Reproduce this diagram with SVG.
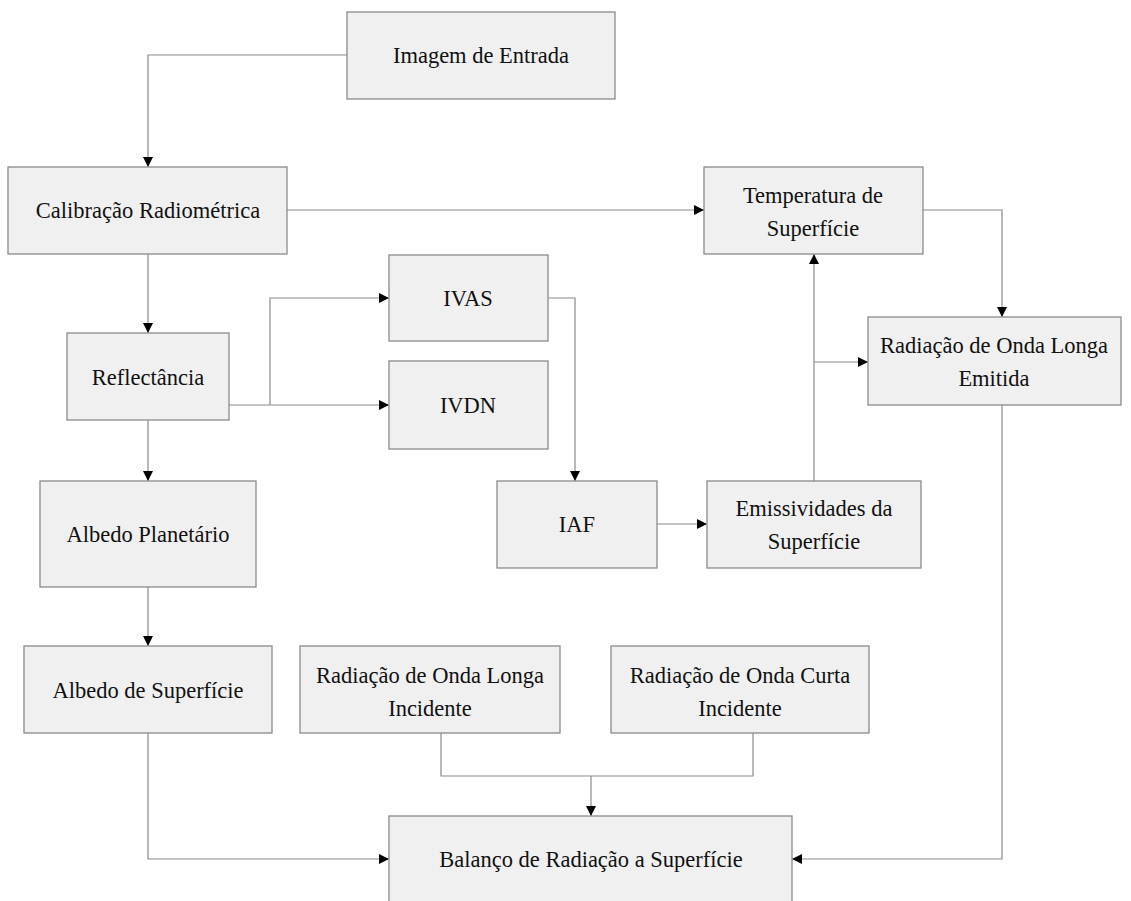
<svg xmlns="http://www.w3.org/2000/svg" width="1131" height="901" viewBox="0 0 1131 901">
<defs>
<marker id="arr" viewBox="0 0 10 10" refX="10" refY="5" markerWidth="11" markerHeight="10" markerUnits="userSpaceOnUse" orient="auto">
<path d="M0,0 L10,5 L0,10 Z" fill="#000"/>
</marker>
<style>
.box{fill:#f0f0f0;stroke:#8a8a8a;stroke-width:1.3}
.t{font-family:"Liberation Serif","Times New Roman",serif;font-size:22.5px;fill:#111;text-anchor:middle}
.c{fill:none;stroke:#8a8a8a;stroke-width:1.2}
.a{marker-end:url(#arr)}
</style>
</defs>
<rect width="1131" height="901" fill="#fff"/>
<g id="connectors">
<path class="c a" d="M347,55 H148 V167"/>
<path class="c a" d="M287,210 H704"/>
<path class="c a" d="M923,210 H1002 V317"/>
<path class="c a" d="M148,254 V333"/>
<path class="c a" d="M229,405 H389"/>
<path class="c a" d="M270,405 V298 H389"/>
<path class="c a" d="M548,298 H575 V481"/>
<path class="c a" d="M657,524 H707"/>
<path class="c a" d="M814,481 V254"/>
<path class="c a" d="M814,362 H868"/>
<path class="c a" d="M148,420 V481"/>
<path class="c a" d="M148,587 V646"/>
<path class="c" d="M441,733 V776 H753 V733"/>
<path class="c a" d="M591,776 V816"/>
<path class="c a" d="M148,733 V859 H389"/>
<path class="c a" d="M1002,405 V859 H792"/>
</g>
<g id="n-imagem"><rect class="box" x="347" y="12" width="268" height="87"/><text class="t" x="481" y="63">Imagem de Entrada</text></g>
<g id="n-calibracao"><rect class="box" x="8" y="167" width="279" height="87"/><text class="t" x="148" y="218">Calibração Radiométrica</text></g>
<g id="n-temperatura"><rect class="box" x="704" y="167" width="219" height="87"/><text class="t" x="813" y="203">Temperatura de</text><text class="t" x="813" y="236">Superfície</text></g>
<g id="n-emitida"><rect class="box" x="868" y="317" width="253" height="88"/><text class="t" x="994" y="353">Radiação de Onda Longa</text><text class="t" x="994" y="386">Emitida</text></g>
<g id="n-reflectancia"><rect class="box" x="67" y="333" width="162" height="87"/><text class="t" x="148" y="385">Reflectância</text></g>
<g id="n-ivas"><rect class="box" x="389" y="255" width="159" height="86"/><text class="t" x="468" y="306">IVAS</text></g>
<g id="n-ivdn"><rect class="box" x="389" y="361" width="159" height="88"/><text class="t" x="468" y="413">IVDN</text></g>
<g id="n-iaf"><rect class="box" x="497" y="481" width="160" height="87"/><text class="t" x="577" y="532">IAF</text></g>
<g id="n-emissividades"><rect class="box" x="707" y="481" width="214" height="87"/><text class="t" x="814" y="516">Emissividades da</text><text class="t" x="814" y="549">Superfície</text></g>
<g id="n-albedo-planetario"><rect class="box" x="40" y="481" width="216" height="106"/><text class="t" x="148" y="542">Albedo Planetário</text></g>
<g id="n-albedo-superficie"><rect class="box" x="24" y="646" width="248" height="87"/><text class="t" x="148" y="698">Albedo de Superfície</text></g>
<g id="n-longa-incidente"><rect class="box" x="300" y="646" width="260" height="87"/><text class="t" x="430" y="683">Radiação de Onda Longa</text><text class="t" x="430" y="716">Incidente</text></g>
<g id="n-curta-incidente"><rect class="box" x="611" y="646" width="258" height="87"/><text class="t" x="740" y="683">Radiação de Onda Curta</text><text class="t" x="740" y="716">Incidente</text></g>
<g id="n-balanco"><rect class="box" x="389" y="816" width="403" height="95"/><text class="t" x="591" y="867">Balanço de Radiação a Superfície</text></g>
</svg>
